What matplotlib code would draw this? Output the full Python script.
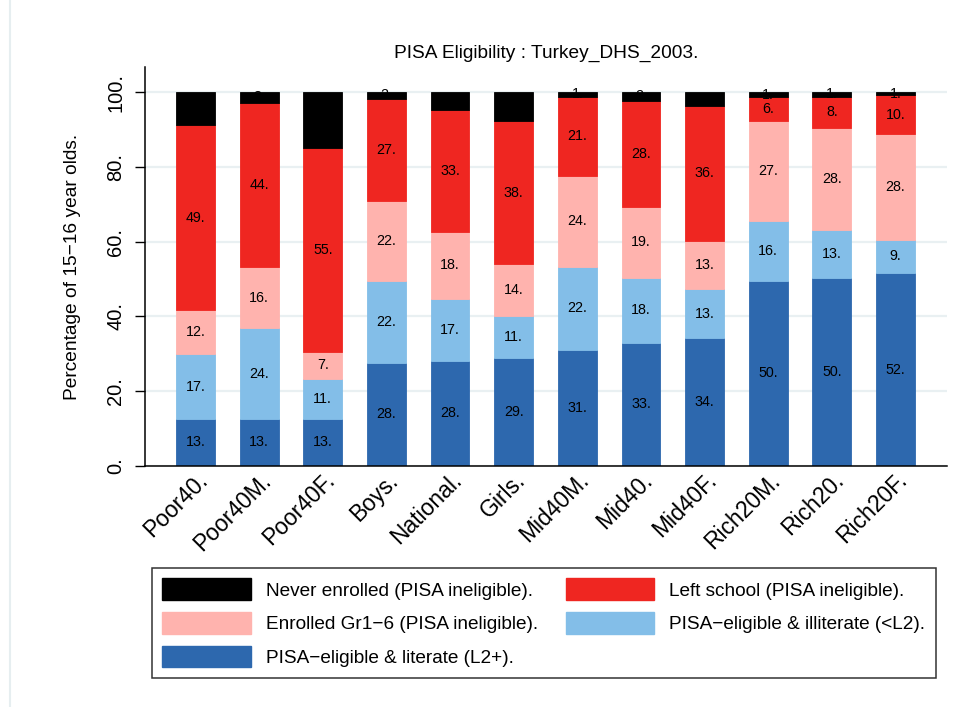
import matplotlib
matplotlib.use('Agg')
import matplotlib.pyplot as plt
from matplotlib.patches import Patch
import numpy as np

plt.rcParams['font.family'] = ['Liberation Sans', 'DejaVu Sans']

groups = ['Poor40', 'Poor40M', 'Poor40F', 'Boys', 'National', 'Girls',
          'Mid40M', 'Mid40', 'Mid40F', 'Rich20M', 'Rich20', 'Rich20F']

# stacked from bottom to top (percent)
literate   = [12.6, 12.6, 12.6, 27.6, 28.2, 28.8, 31.0, 32.9, 34.3, 49.5, 50.4, 51.6]
illiterate = [17.3, 24.2, 10.6, 21.8, 16.5, 11.2, 22.3, 17.5, 12.9, 15.9, 12.6, 8.9]
gr1_6      = [11.8, 16.4, 7.4, 21.6, 17.9, 13.9, 24.3, 18.9, 13.0, 26.8, 27.5, 28.4]
left_sch   = [49.4, 44.0, 54.5, 27.2, 32.7, 38.4, 21.2, 28.4, 36.2, 6.4, 8.3, 10.2]
never      = [8.9, 2.8, 14.9, 1.8, 4.7, 7.7, 1.2, 2.3, 3.6, 1.4, 1.2, 0.9]

series = [literate, illiterate, gr1_6, left_sch, never]
colors = ['#2d68ae', '#83bee8', '#ffb3ae', '#ef2621', '#000000']
names = ['PISA\u2212eligible & literate (L2+)',
         'PISA\u2212eligible & illiterate (<L2)',
         'Enrolled Gr1\u22126 (PISA ineligible)',
         'Left school (PISA ineligible)',
         'Never enrolled (PISA ineligible)']

fig = plt.figure(figsize=(9.58, 7.07), dpi=100)
ax = fig.add_axes([0.1514, 0.3409, 0.8371, 0.5643])

x = np.arange(len(groups))
bottom = np.zeros(len(groups))
for vals, col in zip(series, colors):
    vals = np.array(vals)
    ax.bar(x, vals, bottom=bottom, width=0.61, color=col, zorder=2,
           edgecolor=col, linewidth=0.6)
    for xi, b, v in zip(x, bottom, vals):
        ax.text(xi, b + v / 2, '%d.' % int(np.floor(v + 0.5)), ha='center',
                va='center', fontsize=10.3, color='black', zorder=3)
    bottom += vals

ax.set_xlim(-0.794, 11.81)
ax.set_ylim(0, 106.7)
ax.set_yticks([0, 20, 40, 60, 80, 100])
ax.set_yticklabels(['0.', '20.', '40.', '60.', '80.', '100.'], rotation=90,
                   va='center', fontsize=14.5)
ax.yaxis.grid(True, color='#e9f0f2', linewidth=1.6, zorder=0)
ax.set_axisbelow(True)
ax.tick_params(axis='y', length=7.2, width=1, pad=7)
ax.tick_params(axis='x', length=0, pad=2)
ax.set_xticks(x)
ax.set_xticklabels([g + '.' for g in groups], rotation=45, ha='right',
                   va='top', rotation_mode='anchor', fontsize=16.5)
for s in ['top', 'right']:
    ax.spines[s].set_visible(False)
ax.spines['left'].set_linewidth(1.1)
ax.spines['bottom'].set_linewidth(1.1)

ax.set_ylabel('Percentage of 15\u221216 year olds.', fontsize=13.8, labelpad=18)
ax.set_title('PISA Eligibility : Turkey_DHS_2003.', fontsize=13.8, pad=6.5)

# legend order: column 1 then column 2
order = [4, 2, 0, 3, 1]
handles = [Patch(facecolor=colors[i], edgecolor=colors[i]) for i in order]
labels = [names[i] + '.' for i in order]
leg = fig.legend(handles, labels, ncol=2, loc='upper left',
                 bbox_to_anchor=(152 / 958, 1 - 568 / 707), fontsize=13.7,
                 frameon=True, fancybox=False, handlelength=4.63,
                 handleheight=1.37, handletextpad=0.79, columnspacing=1.5,
                 labelspacing=0.63, borderpad=0.55, borderaxespad=0)
leg.get_frame().set_edgecolor('black')
leg.get_frame().set_linewidth(1.1)

fig.add_artist(plt.Line2D([10 / 958, 10 / 958], [0, 1], color='#e6eef0',
                          linewidth=1.5, transform=fig.transFigure))

fig.savefig('out.png', dpi=100)
